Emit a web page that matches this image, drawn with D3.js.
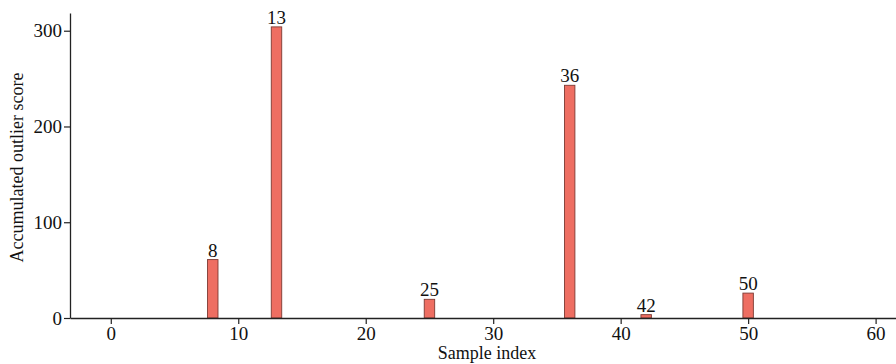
<!DOCTYPE html>
<html>
<head>
<meta charset="utf-8">
<script src="https://cdn.jsdelivr.net/npm/d3@7"></script>
<style>
  html, body { margin: 0; padding: 0; background: #fff; }
  svg { display: block; }
  svg text { font-family: "Liberation Serif", "Times New Roman", "DejaVu Serif", serif !important; fill: #111; }
</style>
</head>
<body>
<svg id="chart" width="896" height="364"></svg>
<script>
// Outlier samples and their accumulated scores
const sampleIndex = [8, 13, 25, 36, 42, 50];
const outlierScore = [61, 304, 19.5, 243, 3.5, 26];
const xTicks = [0, 10, 20, 30, 40, 50, 60];
const yTicks = [0, 100, 200, 300];

const svg = d3.select("#chart");
const plotLeft = 70, plotRight = 896, plotTop = 13, plotBottom = 318;

const x = d3.scaleLinear().domain([-3.2, 61.6]).range([plotLeft, plotRight]);
const y = d3.scaleLinear().domain([0, 318.5]).range([plotBottom, plotTop]);

const barW = 0.82;
const rows = sampleIndex.map((s, i) => ({ s, v: outlierScore[i] }));

// Bars
svg.append("g").selectAll("rect")
  .data(rows)
  .join("rect")
  .attr("x", d => x(d.s - barW / 2))
  .attr("y", d => y(d.v))
  .attr("width", d => x(d.s + barW / 2) - x(d.s - barW / 2))
  .attr("height", d => y(0) - y(d.v))
  .attr("fill", "#ee6e62")
  .attr("stroke", "#7d3a33")
  .attr("stroke-width", 0.9);

// Index labels above bars
svg.append("g").selectAll("text")
  .data(rows)
  .join("text")
  .attr("x", d => x(d.s))
  .attr("y", d => y(d.v) - 3)
  .attr("text-anchor", "middle")
  .attr("font-size", 19)
  .text(d => d.s);

// X axis
const xAxis = svg.append("g")
  .attr("transform", `translate(0,${plotBottom})`)
  .call(d3.axisBottom(x).tickValues(xTicks).tickSize(6).tickSizeOuter(0).tickPadding(3));
xAxis.select(".domain").attr("stroke", "#222").attr("stroke-width", 1.3);
xAxis.selectAll(".tick line").attr("stroke", "#222").attr("stroke-width", 1.2);
xAxis.selectAll(".tick text").attr("font-size", 19).attr("fill", "#111");

// Y axis
const yAxis = svg.append("g")
  .attr("transform", `translate(${plotLeft},0)`)
  .call(d3.axisLeft(y).tickValues(yTicks).tickSize(6).tickSizeOuter(0).tickPadding(2));
yAxis.select(".domain").attr("stroke", "#222").attr("stroke-width", 1.3);
yAxis.selectAll(".tick line").attr("stroke", "#222").attr("stroke-width", 1.2);
yAxis.selectAll(".tick text").attr("font-size", 19).attr("fill", "#111");

// Axis titles
svg.append("text")
  .attr("x", 487)
  .attr("y", 359)
  .attr("text-anchor", "middle")
  .attr("font-size", 18)
  .text("Sample index");

svg.append("text")
  .attr("transform", `translate(23,${(plotTop + plotBottom) / 2 + 2}) rotate(-90)`)
  .attr("text-anchor", "middle")
  .attr("font-size", 18)
  .text("Accumulated outlier score");
</script>
</body>
</html>
